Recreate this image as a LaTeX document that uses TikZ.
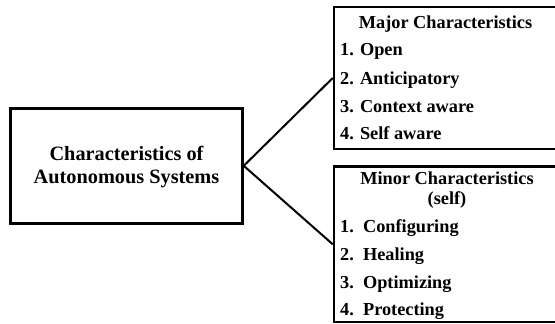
\documentclass[tikz,border=0pt]{standalone}
\usepackage{fontspec}
\setmainfont{Liberation Serif}
\begin{document}
\begin{tikzpicture}[x=1pt,y=-1pt,
  box/.style={draw=black, line width=2.5pt, rectangle, inner sep=0pt},
  link/.style={draw=black, line width=2pt},
  itemtxt/.style={anchor=base west, inner sep=0pt, font=\fontsize{18.3}{20}\selectfont\bfseries},
  headtxt/.style={anchor=base, inner sep=0pt, font=\fontsize{18.3}{20}\selectfont\bfseries},
  maintxt/.style={anchor=base, inner sep=0pt, font=\fontsize{20.3}{22}\selectfont\bfseries}]
\clip (0,0) rectangle (555,324);
\useasboundingbox (0,0) rectangle (555,324);
% boxes
\node[box, minimum width=232pt, minimum height=115pt] (root) at (126.5,165.8) {};
\node[box, minimum width=250pt, minimum height=142pt] (major) at (459,78) {};
\node[box, minimum width=250pt, minimum height=155.5pt] (minor) at (459,244.3) {};
% connectors
\draw[link] (root.east) -- (major.west);
\draw[link] (root.east) -- (minor.west);
% central label
\node[maintxt] (r1) at (126.5,160) {Characteristics of};
\node[maintxt] (r2) at (126.5,183) {Autonomous Systems};
% major characteristics
\node[headtxt] (mh) at (445.5,28) {Major Characteristics};
\node[itemtxt] (m1) at (340,56) {1. Open};
\node[itemtxt] (m2) at (340,84) {2. Anticipatory};
\node[itemtxt] (m3) at (340,112) {3. Context aware};
\node[itemtxt] (m4) at (340,139.5) {4. Self aware};
% minor characteristics
\node[headtxt] (nh1) at (447,184.5) {Minor Characteristics};
\node[headtxt] (nh2) at (447,204) {(self)};
\node[itemtxt] (n1) at (340,232) {1.\ \ Configuring};
\node[itemtxt] (n2) at (340,260.5) {2.\ \ Healing};
\node[itemtxt] (n3) at (340,288) {3.\ \ Optimizing};
\node[itemtxt] (n4) at (340,315.5) {4.\ \ Protecting};
\end{tikzpicture}
\end{document}
